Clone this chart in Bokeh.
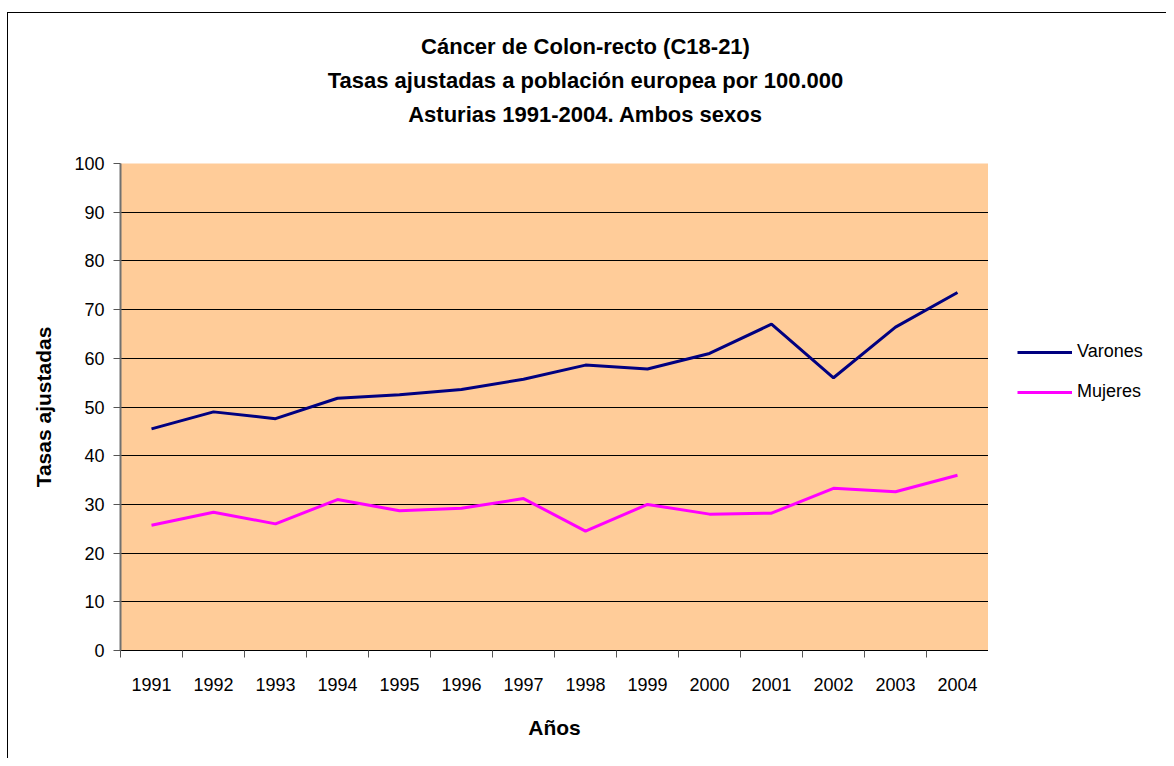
from bokeh.plotting import figure
from bokeh.layouts import column, row
from bokeh.models import (FixedTicker, Legend, LegendItem, Range1d, Label, InlineStyleSheet)
from bokeh.embed import file_html
from bokeh.resources import INLINE

years = ["1991", "1992", "1993", "1994", "1995", "1996", "1997",
         "1998", "1999", "2000", "2001", "2002", "2003", "2004"]
varones = [45.5, 49.0, 47.6, 51.8, 52.5, 53.6, 55.7, 58.6, 57.8, 61.0, 67.0, 56.0, 66.4, 73.5]
mujeres = [25.7, 28.4, 26.0, 31.0, 28.7, 29.2, 31.2, 24.5, 30.0, 28.0, 28.2, 33.3, 32.6, 36.0]
y_ticks = [0, 10, 20, 30, 40, 50, 60, 70, 80, 90, 100]

title_lines = ["Cáncer de Colon-recto (C18-21)",
               "Tasas ajustadas a población europea por 100.000",
               "Asturias 1991-2004. Ambos sexos"]
x_title = "Años"
y_title = "Tasas ajustadas"
series_names = ["Varones", "Mujeres"]
series_colors = ["#000080", "#FF00FF"]

FONT = "Liberation Sans"
n = len(years)
x = [i + 0.5 for i in range(n)]

HEAD_H = 151
CHART_W, CHART_H = 988, 607
LEG_W = 178


def border_css(top):
    extra = "border-top: 1px solid #000; " if top else ""
    return InlineStyleSheet(css=(
        ":host::after { content: ''; position: absolute; left: 7px; top: %dpx; "
        "right: 0px; bottom: 0px; border-left: 1px solid #000; %s"
        "pointer-events: none; }" % (12 if top else 0, extra)))


def blank_figure(w, h):
    f = figure(width=w, height=h, output_backend="svg", toolbar_location=None,
               x_range=Range1d(0, 1), y_range=Range1d(0, 1),
               min_border_left=0, min_border_right=0, min_border_top=0, min_border_bottom=0)
    f.axis.visible = False
    f.grid.visible = False
    f.outline_line_color = None
    f.background_fill_color = "white"
    f.border_fill_color = "white"
    f.title.visible = False
    return f


# ---- header with the three title lines ----
head = blank_figure(CHART_W + LEG_W, HEAD_H)
head.stylesheets = [border_css(True)]
for t, yy in zip(title_lines, [46, 80, 114]):
    head.add_layout(Label(x=585, y=HEAD_H - yy, x_units="screen", y_units="screen",
                          text=t, text_align="center", text_baseline="middle",
                          text_font=FONT, text_font_size="22px", text_font_style="bold",
                          text_color="black"))

# ---- main chart ----
p = figure(width=CHART_W, height=CHART_H, output_backend="svg", toolbar_location=None,
           x_range=Range1d(0, n), y_range=Range1d(0, 100),
           min_border_left=120, min_border_right=0, min_border_top=12,
           min_border_bottom=108)
p.stylesheets = [border_css(False)]
p.title.visible = False
p.background_fill_color = "#FFCC99"
p.border_fill_color = "white"
p.outline_line_color = None
p.xgrid.visible = False
p.ygrid.grid_line_color = "black"
p.ygrid.grid_line_width = 1

p.xaxis.ticker = FixedTicker(ticks=x, minor_ticks=list(range(n + 1)))
p.xaxis.major_label_overrides = {xx: yy for xx, yy in zip(x, years)}
p.xaxis.major_tick_out = 0
p.xaxis.major_tick_in = 0
p.xaxis.minor_tick_out = 7
p.xaxis.minor_tick_in = 0
p.xaxis.minor_tick_line_color = "#555555"
p.xaxis.axis_line_color = "black"
p.xaxis.major_label_standoff = 20
p.xaxis.axis_label = x_title
p.xaxis.axis_label_standoff = 22

p.yaxis.ticker = FixedTicker(ticks=y_ticks, minor_ticks=[])
p.yaxis.major_tick_out = 7
p.yaxis.major_tick_in = 0
p.yaxis.major_tick_line_color = "#555555"
p.yaxis.axis_line_color = "#707070"
p.yaxis.axis_line_width = 2
p.yaxis.major_label_standoff = 9
p.yaxis.axis_label = y_title
p.yaxis.axis_label_standoff = 16

for ax in (p.xaxis, p.yaxis):
    ax.major_label_text_font = FONT
    ax.major_label_text_font_size = "18px"
    ax.major_label_text_color = "black"
    ax.axis_label_text_font = FONT
    ax.axis_label_text_font_size = "21px"
    ax.axis_label_text_font_style = "bold"
    ax.axis_label_text_color = "black"

p.line(x, varones, line_color=series_colors[0], line_width=3)
p.line(x, mujeres, line_color=series_colors[1], line_width=3)

# ---- legend panel (its frame is aligned with the chart's frame) ----
leg = blank_figure(LEG_W, CHART_H)
items = []
for name, col, vals in zip(series_names, series_colors, [varones, mujeres]):
    r = leg.line(x, vals, line_color=col, line_width=3, visible=False)
    items.append(LegendItem(label=name, renderers=[r]))
legend = Legend(items=items, location=(29, 248), orientation="vertical",
                glyph_width=55, glyph_height=20, label_standoff=5, spacing=19,
                padding=0, margin=0, border_line_color=None,
                background_fill_alpha=0,
                label_text_font=FONT, label_text_font_size="18px",
                label_text_color="black")
leg.add_layout(legend, "center")

layout = column(head, row(p, leg, spacing=0), spacing=0)

open("out.html", "w").write(file_html(layout, INLINE))
